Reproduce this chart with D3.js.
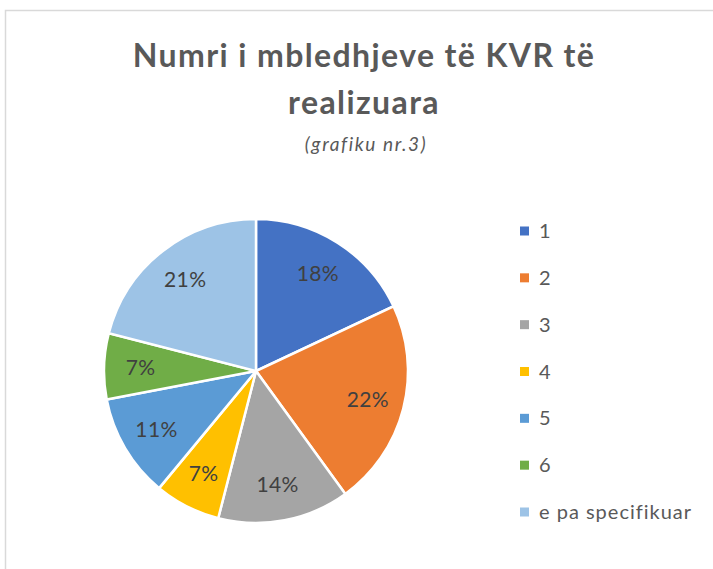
<!DOCTYPE html>
<html>
<head>
<meta charset="utf-8">
<script src="https://cdn.jsdelivr.net/npm/d3@7"></script>
<style>
  body { margin: 0; background: #fff; }
  svg { display: block; font-family: Lato, "Open Sans", sans-serif; }
</style>
</head>
<body>
<svg id="chart" width="713" height="569"></svg>
<script>
// Data
const categories = ["1", "2", "3", "4", "5", "6", "e pa specifikuar"];
const values = [18, 22, 14, 7, 11, 7, 21];
const colors = ["#4472c4", "#ed7d31", "#a5a5a5", "#ffc000", "#5b9bd5", "#70ad47", "#9dc3e6"];

const data = categories.map((c, i) => ({ label: c, value: values[i] }));

const svg = d3.select("#chart");

// Chart area border
svg.append("rect")
    .attr("x", 5.5)
    .attr("y", 10.5)
    .attr("width", 760)
    .attr("height", 620)
    .attr("fill", "#fff")
    .attr("stroke", "#d9d9d9")
    .attr("stroke-width", 1.5);

// Title
const title = svg.append("text")
    .attr("text-anchor", "middle")
    .attr("fill", "#595959")
    .style("font-size", "32px")
    .style("font-weight", "bold")
    .style("letter-spacing", "1.4px");
title.append("tspan").attr("x", 364).attr("y", 67).text("Numri i mbledhjeve të KVR të");
title.append("tspan").attr("x", 364).attr("y", 114).text("realizuara");

svg.append("text")
    .attr("x", 366)
    .attr("y", 151)
    .attr("text-anchor", "middle")
    .attr("fill", "#595959")
    .style("font-size", "19px")
    .style("font-style", "italic")
    .style("letter-spacing", "1.6px")
    .text("(grafiku nr.3)");

// Pie
const cx = 256, cy = 371, radius = 152;
const color = d3.scaleOrdinal().domain(categories).range(colors);

const pie = d3.pie().value(d => d.value).sort(null);
const arc = d3.arc().innerRadius(0).outerRadius(radius);
const labelArc = d3.arc().innerRadius(radius * 0.76).outerRadius(radius * 0.76);

const g = svg.append("g").attr("transform", `translate(${cx},${cy})`);

g.selectAll("path")
    .data(pie(data))
    .enter().append("path")
    .attr("d", arc)
    .attr("fill", d => color(d.data.label))
    .attr("stroke", "#fff")
    .attr("stroke-width", 2.5);

g.selectAll(".lbl")
    .data(pie(data))
    .enter().append("text")
    .attr("class", "lbl")
    .attr("transform", d => `translate(${labelArc.centroid(d)})`)
    .attr("text-anchor", "middle")
    .attr("dy", "0.35em")
    .attr("fill", "#404040")
    .style("font-size", "21px")
    .style("letter-spacing", "0.4px")
    .text(d => d.value + "%");

// Legend
const legendY = d3.scalePoint().domain(categories).range([231, 512]);
const legend = svg.append("g");
const items = legend.selectAll(".item")
    .data(categories)
    .enter().append("g")
    .attr("class", "item")
    .attr("transform", d => `translate(520,${legendY(d)})`);

items.append("rect")
    .attr("x", 0)
    .attr("y", -4.5)
    .attr("width", 9)
    .attr("height", 9)
    .attr("fill", d => color(d));

items.append("text")
    .attr("x", 19)
    .attr("dy", "0.35em")
    .attr("fill", "#595959")
    .style("font-size", "20px")
    .style("letter-spacing", "1px")
    .text(d => d);
</script>
</body>
</html>
